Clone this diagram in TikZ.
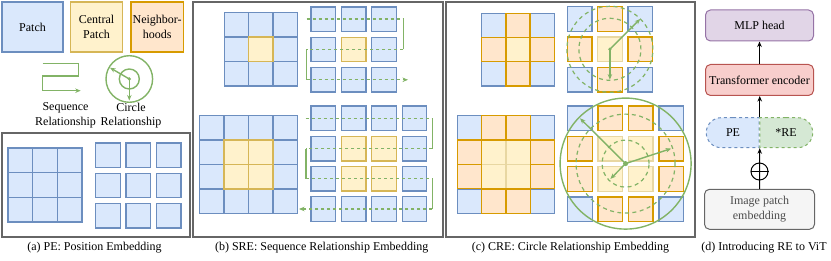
\documentclass[tikz,border=0pt]{standalone}
\usepackage{fontspec}
\setmainfont{Liberation Serif}
\usetikzlibrary{arrows.meta,shapes.misc}

\definecolor{blueF}{HTML}{DAE8FC}
\definecolor{blueD}{HTML}{6C8EBF}
\definecolor{yelF}{HTML}{FFF2CC}
\definecolor{yelD}{HTML}{D6B656}
\definecolor{oraF}{HTML}{FFE6CC}
\definecolor{oraD}{HTML}{D79B00}
\definecolor{grnF}{HTML}{D5E8D4}
\definecolor{grnD}{HTML}{82B366}
\definecolor{redF}{HTML}{F8CECC}
\definecolor{redD}{HTML}{B85450}
\definecolor{purF}{HTML}{E1D5E7}
\definecolor{purD}{HTML}{9673A6}
\definecolor{grayF}{HTML}{F5F5F5}
\definecolor{grayD}{HTML}{666666}

\tikzset{
  cell/.style={line width=1.3pt, inner sep=0pt, minimum size=#1},
  cell/.default=24.4pt,
  sq/.style={cell=24.6pt},
  bp/.style={draw=blueD, fill=blueF},
  yp/.style={draw=yelD, fill=yelF},
  yq/.style={draw=yelD!55, fill=yelF},
  op/.style={draw=oraD, fill=oraF},
  lbox/.style={line width=1.3pt, minimum height=50pt, inner sep=1pt, align=center},
  panel/.style={draw=grayD, line width=2pt},
  seqline/.style={draw=grnD, line width=1.4pt},
  ring/.style={draw=grnD, line width=1.2pt, dash pattern=on 4pt off 3.5pt},
  block/.style={draw, rounded corners=5pt, line width=1pt, minimum width=108pt, minimum height=31pt, inner sep=0pt, align=center},
}

\begin{document}
\begin{tikzpicture}[x=1pt, y=-1pt, font=\fontsize{12}{14.5}\selectfont, >={Stealth[length=5.5pt,width=4.5pt]}]
\useasboundingbox (0,0) rectangle (831,261);

% Legend
\node[lbox,bp,minimum width=61pt] (lpatch) at (32.5,27) {Patch};
\node[lbox,yp,minimum width=51.6pt] (lcentral) at (96.5,27) {Central\\Patch};
\node[lbox,op,minimum width=52.3pt] (lneigh) at (157.2,27) {Neighbor-\\hoods};

\draw[seqline,->] (42.7,63.3) -- (78.3,63.3) -- (78.3,76) -- (42.7,76) -- (42.7,90.7) -- (80.7,90.7);
\node[align=center] (lseq) at (65.5,115.5) {Sequence\\Relationship};

\coordinate (lc) at (129.3,79);
\draw[seqline] (lc) circle (23.3pt) (lc) circle (10pt);
\fill[grnD] (lc) circle (1.8pt);
\draw[seqline,->] (lc) -- (110,67.7);
\draw[seqline,->] (lc) -- (129.3,100.5);
\node[align=center] (lcirc) at (131,115.5) {Circle\\Relationship};

% Panel frames
\draw[panel] (2,133) rectangle (190,237);
\draw[panel] (193,2) rectangle (442.5,237);
\draw[panel] (446,2) rectangle (694.5,237);

% (a) PE: position embedding
\foreach \r in {0,1,2}
  \foreach \c in {0,1,2} {
    \node[cell=24.7pt,bp] (ag\r\c) at ({20.35+24.7*\c},{160.35+24.7*\r}) {};
    \node[sq,bp] (as\r\c) at ({108+30.3*\c},{155.2+30.3*\r}) {};
  }

% (b) SRE: 3x3 patches
\foreach \r in {0,1,2}
  \foreach \c in {0,1,2} {
    \node[cell,bp] (btg\r\c) at ({236.5+24.4*\c},{24.9+24.4*\r}) {};
    \node[sq,bp] (bts\r\c) at ({323.3+30.3*\c},{19.2+30.3*\r}) {};
  }
\node[cell,yp] (bty11) at (btg11.center) {};
\node[sq,yp] (btz11) at (bts11.center) {};

% (b) SRE: 4x4 patches
\foreach \r in {0,...,3}
  \foreach \c in {0,...,3} {
    \node[cell,bp] (bbg\r\c) at ({211.9+24.4*\c},{127.9+24.4*\r}) {};
    \node[sq,bp] (bbs\r\c) at ({323.3+30.4*\c},{118.4+30.2*\r}) {};
  }
\foreach \rc in {11,12,21,22} {
  \node[cell,yp] (bby\rc) at (bbg\rc.center) {};
  \node[sq,yp] (bbz\rc) at (bbs\rc.center) {};
}

% sequence order, top
\coordinate (s1) at (306.7,19.2);
\coordinate (s2) at (403.3,19.2);
\coordinate (s3) at (403.3,49.5);
\coordinate (s4) at (306.7,49.5);
\coordinate (s5) at (306.7,79.8);
\coordinate (s6) at (408,79.8);
\draw[seqline,dashed] (s1) -- (s2) (s3) -- (s4);
\draw[seqline] (s2) -- (s3) (s4) -- (s5);
\draw[seqline,dashed,->] (s5) -- (s6);

% sequence order, bottom
\coordinate (q1) at (305.5,118.4);
\coordinate (q2) at (432.3,118.4);
\coordinate (q3) at (432.3,148.6);
\coordinate (q4) at (306,148.6);
\coordinate (q5) at (306,178.8);
\coordinate (q6) at (432.3,178.8);
\coordinate (q7) at (432.3,209);
\coordinate (q8) at (299,209);
\draw[seqline,dashed] (q1) -- (q2) (q3) -- (q4) (q5) -- (q6);
\draw[seqline] (q2) -- (q3) (q4) -- (q5) (q6) -- (q7);
\draw[seqline,dashed,->] (q7) -- (q8);

% (c) CRE: 3x3 patches
\foreach \r in {0,1,2}
  \foreach \c in {0,1,2} {
    \node[cell=24.2pt,bp] (ctg\r\c) at ({493.8+24.2*\c},{25.4+24.2*\r}) {};
    \node[sq,bp] (cts\r\c) at ({579.6+30.3*\c},{19+30.3*\r}) {};
  }
\node[cell=24.2pt,yq] (cty11) at (ctg11.center) {};
\node[sq,yq] (ctz11) at (cts11.center) {};
\foreach \rc in {01,10,12,21} {
  \node[cell=24.2pt,op] (cto\rc) at (ctg\rc.center) {};
  \node[sq,op] (ctp\rc) at (cts\rc.center) {};
}

% (c) CRE: 4x4 patches
\foreach \r in {0,...,3}
  \foreach \c in {0,...,3} {
    \node[cell=24.3pt,bp] (cbg\r\c) at ({469.4+24.3*\c},{127.9+24.4*\r}) {};
    \node[sq,bp] (cbs\r\c) at ({580+30.4*\c},{118.3+30.3*\r}) {};
  }
\foreach \rc in {11,12,21,22} {
  \node[cell=24.3pt,yq] (cby\rc) at (cbg\rc.center) {};
  \node[sq,yq] (cbz\rc) at (cbs\rc.center) {};
}
\foreach \rc in {01,02,10,13,20,23,31,32} {
  \node[cell=24.3pt,op] (cbo\rc) at (cbg\rc.center) {};
  \node[sq,op] (cbp\rc) at (cbs\rc.center) {};
}

% circles, top
\draw[ring] (cts11.center) circle (43pt) (cts11.center) circle (31pt);
\fill[grnD] (cts11.center) circle (1.8pt);
\draw[seqline,->] (cts11.center) -- (cts02.center);
\draw[seqline,->] (cts11.center) -- (cts21.center);

% circles, bottom
\coordinate (cmid) at (625.6,163.6);
\draw[seqline] (cmid) circle (65.5pt);
\draw[ring] (cmid) circle (49.5pt) (cmid) circle (23.5pt);
\fill[grnD] (cmid) circle (2.5pt);
\draw[seqline,->] (cmid) -- (cbs00.center);
\draw[seqline,->] (cmid) -- (cbs13.center);
\draw[seqline,->] (cmid) -- (cbs21.center);

% (d) RE in ViT
\node[block,draw=purD,fill=purF] (mlp) at (759.5,25.5) {MLP head};
\node[block,draw=redD,fill=redF] (enc) at (759.5,80) {Transformer encoder};
\node[rounded rectangle, rounded rectangle right arc=none, draw=blueD, fill=blueF, dashed, line width=1pt,
  minimum width=53pt, minimum height=30pt, inner sep=0pt] (pe) at (733,132.7) {PE};
\node[rounded rectangle, rounded rectangle left arc=none, draw=grnD, fill=grnF, dashed, line width=1pt,
  minimum width=53pt, minimum height=30pt, inner sep=0pt] (re) at (786,132.7) {*RE};
\node[block,draw=grayD,fill=grayF,text=black!70,minimum width=110pt,minimum height=40pt] (ipe) at (759.5,209.3) {Image patch\\embedding};
\node[circle,draw,line width=1pt,minimum size=17pt,inner sep=0pt] (add) at (759.5,171.5) {};
\draw[line width=1pt] (add.west) -- (add.east);
\draw[line width=1pt,->] (ipe.north) -- (pe.south east);
\draw[line width=1pt,->] (pe.north east) -- (pe.north east |- enc.south);
\draw[line width=1pt,->] (enc.north) -- (mlp.south);

% Captions
\node (capa) at (94.5,248) {(a) PE: Position Embedding};
\node (capb) at (321.7,248) {(b) SRE: Sequence Relationship Embedding};
\node (capc) at (570.5,248) {(c) CRE: Circle Relationship Embedding};
\node (capd) at (764,248) {(d) Introducing RE to ViT};
\end{tikzpicture}
\end{document}
